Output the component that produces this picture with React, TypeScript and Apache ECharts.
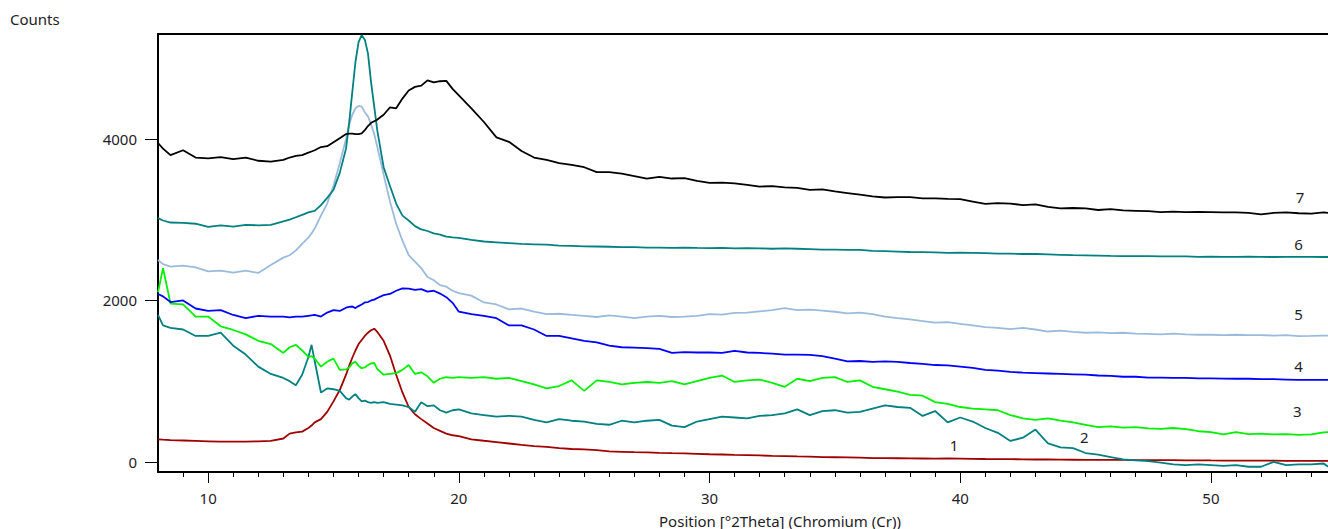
import React, { useEffect, useRef } from "react";
import * as echarts from "echarts";

// Position [°2Theta] sample points (shared by all patterns)
const twoTheta = [
  8, 8.2, 8.5, 9, 9.5, 10, 10.5, 11, 11.5, 12, 12.5, 13,
  13.25, 13.5, 13.75, 14, 14.125, 14.25, 14.5, 14.75, 15, 15.25, 15.5, 15.625,
  15.75, 15.875, 16, 16.125, 16.25, 16.375, 16.5, 16.625, 16.75, 17, 17.25, 17.5,
  17.75, 18, 18.25, 18.5, 18.75, 19, 19.25, 19.5, 19.75, 20, 20.5, 21,
  21.5, 22, 22.5, 23, 23.5, 24, 24.5, 25, 25.5, 26, 26.5, 27,
  27.5, 28, 28.5, 29, 29.5, 30, 30.5, 31, 31.5, 32, 32.5, 33,
  33.5, 34, 34.5, 35, 35.5, 36, 36.5, 37, 37.5, 38, 38.5, 39,
  39.5, 40, 40.5, 41, 41.5, 42, 42.5, 43, 43.5, 44, 44.5, 45,
  45.5, 46, 46.5, 47, 47.5, 48, 48.5, 49, 49.5, 50, 50.5, 51,
  51.5, 52, 52.5, 53, 53.5, 54, 54.5, 54.67,
];

const counts1 = [
  280, 275, 270, 265, 260, 255, 250, 252, 250, 255, 260, 290,
  350, 365, 375, 420, 450, 490, 530, 620, 750, 890, 1080, 1190,
  1290, 1380, 1460, 1510, 1560, 1600, 1630, 1650, 1610, 1500, 1320, 1080,
  860, 680, 590, 530, 475, 420, 385, 350, 330, 320, 280, 262,
  245, 228, 210, 195, 185, 170, 160, 155, 145, 130, 125, 120,
  118, 112, 108, 105, 100, 95, 92, 88, 85, 80, 75, 72,
  68, 65, 60, 58, 55, 52, 48, 46, 45, 43, 42, 40,
  42, 40, 38, 36, 35, 34, 32, 30, 30, 28, 27, 26,
  25, 25, 24, 23, 22, 22, 21, 20, 20, 18, 17, 17,
  16, 15, 15, 14, 14, 13, 12, 12,
];

const counts2 = [
  1820, 1690, 1660, 1640, 1560, 1560, 1600, 1440, 1330, 1180, 1090, 1040,
  1000, 950, 1080, 1300, 1450, 1250, 860, 910, 900, 880, 790, 770,
  810, 840, 790, 750, 760, 740, 730, 740, 730, 740, 720, 710,
  700, 680, 620, 740, 690, 700, 640, 610, 640, 650, 600, 580,
  560, 570, 560, 520, 490, 530, 510, 500, 470, 460, 510, 490,
  510, 520, 450, 430, 500, 530, 560, 550, 540, 570, 580, 600,
  650, 580, 630, 640, 610, 620, 660, 700, 680, 670, 570, 630,
  490, 550, 500, 420, 360, 260, 300, 400, 230, 180, 170, 110,
  90, 60, 30, 20, 10, -10, -30, -40, -30, -40, -50, -40,
  -60, -60, 0, -40, -30, -30, -20, -60,
];

const counts3 = [
  2100, 2400, 1960, 1950, 1800, 1800, 1680, 1634, 1580, 1500, 1460, 1350,
  1420, 1450, 1380, 1300, 1310, 1280, 1180, 1240, 1280, 1140, 1145, 1170,
  1220, 1240, 1190, 1160, 1170, 1200, 1220, 1225, 1150, 1080, 1090, 1100,
  1140, 1200, 1090, 1110, 1060, 980, 1030, 1050, 1040, 1050, 1040, 1050,
  1030, 1040, 1000, 960, 910, 940, 1010, 880, 1010, 990, 960, 980,
  990, 980, 1000, 960, 1000, 1040, 1070, 990, 1010, 1020, 980, 930,
  1030, 1000, 1040, 1050, 990, 1010, 930, 900, 870, 830, 820, 740,
  720, 680, 660, 650, 640, 580, 540, 520, 540, 510, 490, 460,
  430, 440, 425, 430, 415, 410, 420, 405, 380, 370, 340, 370,
  345, 350, 340, 345, 335, 340, 365, 370,
];

const counts4 = [
  2080, 2050, 1980, 2000, 1900, 1870, 1880, 1820, 1780, 1810, 1800, 1800,
  1790, 1800, 1800, 1810, 1815, 1820, 1800, 1850, 1880, 1870, 1910, 1920,
  1925, 1905, 1930, 1950, 1975, 1980, 2000, 2010, 2030, 2065, 2080, 2120,
  2150, 2145, 2130, 2140, 2110, 2120, 2085, 2040, 1970, 1860, 1830, 1810,
  1780, 1690, 1690, 1640, 1560, 1560, 1530, 1500, 1480, 1440, 1420, 1415,
  1410, 1400, 1350, 1360, 1355, 1355, 1350, 1375, 1355, 1350, 1340, 1330,
  1330, 1325, 1310, 1280, 1245, 1250, 1240, 1245, 1240, 1225, 1215, 1200,
  1195, 1180, 1165, 1140, 1130, 1115, 1105, 1100, 1095, 1090, 1085, 1080,
  1070, 1065, 1055, 1055, 1045, 1045, 1040, 1040, 1035, 1035, 1032, 1030,
  1030, 1025, 1025, 1020, 1015, 1015, 1015, 1015,
];

const counts5 = [
  2500, 2450, 2420, 2430, 2410, 2360, 2370, 2345, 2370, 2340, 2440, 2530,
  2560, 2620, 2700, 2780, 2830, 2890, 3050, 3200, 3420, 3700, 4000, 4180,
  4300, 4380, 4410, 4400, 4330, 4280, 4180, 4060, 3900, 3560, 3230, 2950,
  2740, 2560, 2480, 2400, 2290, 2250, 2190, 2170, 2120, 2090, 2060, 1975,
  1950, 1890, 1900, 1860, 1830, 1835, 1820, 1810, 1795, 1815, 1800, 1780,
  1800, 1810, 1795, 1800, 1810, 1830, 1825, 1845, 1850, 1865, 1880, 1905,
  1880, 1885, 1875, 1860, 1840, 1850, 1830, 1800, 1780, 1765, 1745, 1725,
  1730, 1710, 1690, 1670, 1660, 1645, 1660, 1640, 1615, 1625, 1610, 1600,
  1605, 1595, 1600, 1590, 1585, 1580, 1590, 1580, 1575, 1575, 1570, 1575,
  1570, 1570, 1565, 1570, 1558, 1560, 1565, 1565,
];

const counts6 = [
  3020, 2990, 2965, 2960, 2950, 2910, 2930, 2915, 2935, 2930, 2935, 2980,
  3000, 3030, 3060, 3090, 3100, 3110, 3180, 3270, 3370, 3580, 3880, 4200,
  4580, 4950, 5200, 5285, 5230, 5060, 4700, 4400, 4100, 3650, 3420, 3200,
  3050, 2990, 2920, 2880, 2860, 2830, 2815, 2790, 2780, 2775, 2750, 2730,
  2720, 2710, 2700, 2695, 2690, 2680, 2675, 2670, 2668, 2665, 2660, 2660,
  2655, 2655, 2650, 2655, 2650, 2648, 2650, 2645, 2648, 2645, 2640, 2645,
  2640, 2635, 2630, 2630, 2625, 2625, 2615, 2610, 2605, 2600, 2598, 2595,
  2590, 2592, 2590, 2585, 2580, 2580, 2575, 2575, 2570, 2565, 2560, 2558,
  2555, 2552, 2550, 2550, 2548, 2545, 2545, 2545, 2540, 2542, 2540, 2540,
  2542, 2540, 2538, 2540, 2540, 2540, 2538, 2538,
];

const counts7 = [
  3950, 3880, 3800, 3860, 3770, 3760, 3775, 3750, 3770, 3730, 3720, 3740,
  3770, 3790, 3800, 3830, 3845, 3860, 3900, 3910, 3960, 4010, 4060, 4065,
  4065, 4060, 4060, 4070, 4110, 4160, 4200, 4220, 4240, 4300, 4390, 4380,
  4500, 4600, 4645, 4660, 4725, 4700, 4715, 4720, 4620, 4540, 4380, 4210,
  4020, 3965, 3850, 3770, 3740, 3700, 3680, 3650, 3590, 3590, 3570, 3540,
  3510, 3530, 3510, 3515, 3480, 3455, 3460, 3450, 3430, 3410, 3415, 3400,
  3395, 3370, 3375, 3350, 3330, 3310, 3290, 3275, 3280, 3280, 3265, 3265,
  3258, 3255, 3225, 3195, 3205, 3200, 3180, 3190, 3160, 3140, 3145, 3140,
  3120, 3130, 3115, 3110, 3105, 3095, 3100, 3095, 3098, 3095, 3090, 3090,
  3085, 3065, 3085, 3090, 3080, 3075, 3090, 3085,
];

const seriesNames = ["1", "2", "3", "4", "5", "6", "7"];
const seriesColors = ["#a00000", "#008080", "#00f000", "#0000ff", "#9bbbdc", "#008080", "#000000"];
const seriesCounts = [counts1, counts2, counts3, counts4, counts5, counts6, counts7];
// where each pattern's number is written [2Theta, Counts]
const curveLabelAt = [
  [39.75, 215], [44.95, 310], [53.45, 630], [53.5, 1190], [53.5, 1830], [53.5, 2700], [53.55, 3280],
];

const xMajorTicks = [10, 20, 30, 40, 50];
const xMinorTicks = [
  9, 10, 11, 12, 13, 14, 15, 16, 17, 18, 19, 20, 21, 22, 23, 24, 25, 26, 27, 28, 29, 30, 31,
  32, 33, 34, 35, 36, 37, 38, 39, 40, 41, 42, 43, 44, 45, 46, 47, 48, 49, 50, 51, 52, 53, 54,
];
const yTicks = [0, 2000, 4000];

const X_MIN = 8;
const X_MAX = 54.67;
const Y_MIN = -125;
const Y_MAX = 5300;

const FONT = "'Noto Sans', 'Open Sans', sans-serif";
const TEXT = "#1e2228";
const FS = 15;

export default function App() {
  const ref = useRef<HTMLDivElement>(null);

  useEffect(() => {
    if (!ref.current) return;
    const chart = echarts.init(ref.current, undefined, { renderer: "svg" });

    const series = seriesCounts.map((ys, i) => ({
      type: "line",
      name: seriesNames[i],
      data: ys.map((y, k) => [twoTheta[k], y]),
      showSymbol: false,
      symbol: "none",
      smooth: false,
      silent: true,
      lineStyle: { color: seriesColors[i], width: 1.8 },
      z: 2,
      markPoint: {
        symbol: "circle",
        symbolSize: 0,
        silent: true,
        label: {
          show: true,
          position: "inside",
          formatter: seriesNames[i],
          color: TEXT,
          fontSize: FS,
          fontFamily: FONT,
        },
        data: [{ coord: curveLabelAt[i], value: seriesNames[i] }],
      },
    }));

    chart.setOption({
      animation: false,
      backgroundColor: "#ffffff",
      textStyle: { fontFamily: FONT },
      title: {
        text: "Counts",
        left: 10,
        top: 11,
        padding: 0,
        textStyle: { fontSize: FS, fontWeight: "normal", color: TEXT, fontFamily: FONT },
      },
      grid: {
        left: 158,
        right: 0,
        top: 34,
        bottom: 57,
        containLabel: false,
        outerBoundsMode: "none",
      },
      xAxis: [
        {
          type: "value",
          min: X_MIN,
          max: X_MAX,
          position: "bottom",
          axisLine: { show: true, onZero: false, lineStyle: { color: "#000", width: 2 } },
          axisTick: { show: true, customValues: xMinorTicks, length: 5, lineStyle: { color: "#000", width: 1 } },
          axisLabel: {
            show: true,
            customValues: xMajorTicks,
            margin: 18,
            fontSize: FS,
            color: TEXT,
            fontFamily: FONT,
            formatter: (v: number) => String(v),
          },
          splitLine: { show: false },
          name: "Position [°2Theta] (Chromium (Cr))",
          nameLocation: "middle",
          nameGap: 41,
          nameTextStyle: { fontSize: FS, color: TEXT, fontFamily: FONT, padding: [0, 0, 0, 74] },
        },
        {
          type: "value",
          min: X_MIN,
          max: X_MAX,
          position: "bottom",
          axisLine: { show: false, onZero: false },
          axisTick: { show: true, customValues: xMajorTicks, length: 11, lineStyle: { color: "#000", width: 1 } },
          axisLabel: { show: false },
          splitLine: { show: false },
        },
        {
          type: "value",
          min: X_MIN,
          max: X_MAX,
          position: "top",
          axisLine: { show: true, onZero: false, lineStyle: { color: "#000", width: 2 } },
          axisTick: { show: false },
          axisLabel: { show: false },
          splitLine: { show: false },
        },
      ],
      yAxis: {
        type: "value",
        min: Y_MIN,
        max: Y_MAX,
        axisLine: { show: true, onZero: false, lineStyle: { color: "#000", width: 2 } },
        axisTick: { show: true, customValues: yTicks, length: 13, lineStyle: { color: "#000", width: 1 } },
        axisLabel: {
          show: true,
          customValues: yTicks,
          margin: 21,
          fontSize: FS,
          color: TEXT,
          fontFamily: FONT,
          formatter: (v: number) => String(v),
        },
        splitLine: { show: false },
      },
      series,
    });

    return () => chart.dispose();
  }, []);

  return (
    <div
      ref={ref}
      style={{ position: "fixed", left: 0, top: 0, width: 1328, height: 529, background: "#fff" }}
    />
  );
}
